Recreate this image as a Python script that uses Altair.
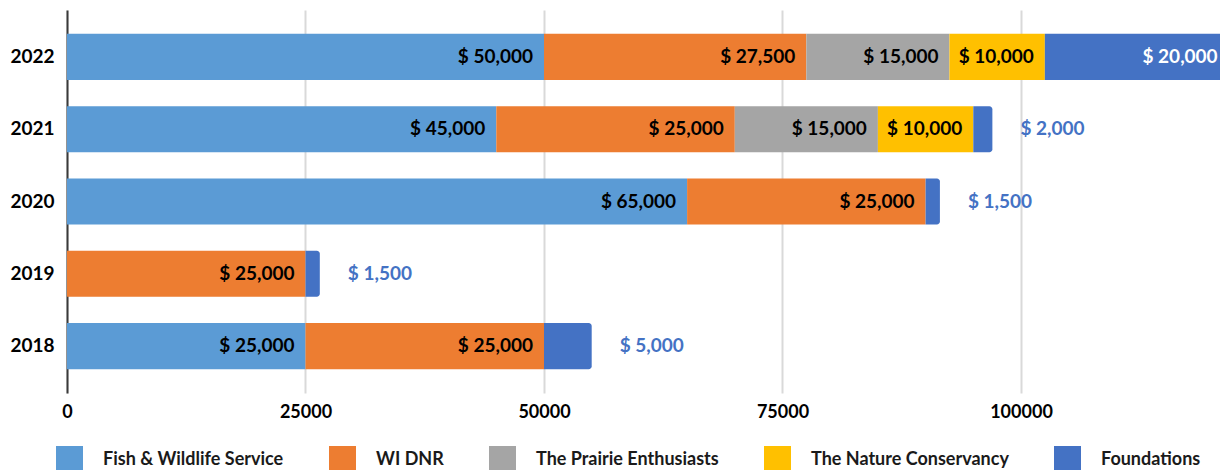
import altair as alt
import pandas as pd

years = ["2022", "2021", "2020", "2019", "2018"]
series = ["Fish & Wildlife Service", "WI DNR", "The Prairie Enthusiasts",
          "The Nature Conservancy", "Foundations"]
colors = ["#5B9BD5", "#ED7D31", "#A5A5A5", "#FFC000", "#4472C4"]

fish = [50000, 45000, 65000, 0, 25000]
widnr = [27500, 25000, 25000, 25000, 25000]
prairie = [15000, 15000, 0, 0, 0]
nature = [10000, 10000, 0, 0, 0]
foundations = [20000, 2000, 1500, 1500, 5000]

x_ticks = [0, 25000, 50000, 75000, 100000]

series_values = [fish, widnr, prairie, nature, foundations]
rows = []
for i, y in enumerate(years):
    cum = 0
    for s, vals in zip(series, series_values):
        v = vals[i]
        if v == 0:
            continue
        rows.append({"year": y, "series": s, "value": v, "start": cum, "end": cum + v})
        cum += v
df = pd.DataFrame(rows)

FONT = "Lato"

xscale = alt.Scale(domain=[0, 120860], nice=False, zero=True)
yscale = alt.Scale(paddingInner=0.363, paddingOuter=0.33)

base = alt.Chart(df).transform_calculate(
    label="'$ ' + format(datum.value, ',')"
)

xenc = alt.X("start:Q", scale=xscale, title=None,
             axis=alt.Axis(values=x_ticks, format="d", labelFont=FONT, labelFontWeight="bold",
                           labelFontSize=18, labelColor="#000000", labelPadding=10,
                           labelFlush=False, domain=False, ticks=False,
                           gridColor="#d9d9d9", gridWidth=2))
yenc = alt.Y("year:N", sort=years, scale=yscale, title=None,
             axis=alt.Axis(labelFont=FONT, labelFontWeight="bold", labelFontSize=19,
                           labelColor="#000000", labelPadding=13, ticks=False,
                           domainColor="#3a3a3a", domainWidth=2, grid=False))
cenc = alt.Color("series:N", scale=alt.Scale(domain=series, range=colors), title=None,
                 legend=alt.Legend(orient="none", direction="horizontal", legendX=-11, legendY=436,
                                   symbolType="square", symbolSize=729, symbolStrokeWidth=0,
                                   symbolOpacity=1, labelFont=FONT, labelFontWeight="bold",
                                   labelFontSize=18, labelColor="#1a1a1a", labelOffset=20,
                                   columnPadding=45, labelLimit=400, padding=0))

bars = base.transform_filter(alt.datum.series != "Foundations").mark_bar(clip=True).encode(
    x=xenc, x2="end:Q", y=yenc, color=cenc)
fbars = base.transform_filter(alt.datum.series == "Foundations").mark_bar(
    clip=True, cornerRadiusTopRight=3, cornerRadiusBottomRight=3).encode(
    x=alt.X("start:Q", scale=xscale), x2="end:Q", y=alt.Y("year:N", sort=years, scale=yscale),
    color=cenc)

inside = base.transform_filter(
    alt.datum.series != "Foundations"
).mark_text(align="right", baseline="middle", dx=-11, font=FONT, fontWeight="bold", fontSize=19,
            color="#000000").encode(
    x=alt.X("end:Q", scale=xscale), y=alt.Y("year:N", sort=years, scale=yscale),
    text="label:N")

inside_edge = base.transform_filter(
    (alt.datum.series == "Foundations") & (alt.datum.year == "2022")
).mark_text(align="right", baseline="middle", dx=-18, font=FONT, fontWeight="bold", fontSize=19,
            color="#ffffff").encode(
    x=alt.X("end:Q", scale=xscale), y=alt.Y("year:N", sort=years, scale=yscale),
    text="label:N")

outside = base.transform_filter(
    (alt.datum.series == "Foundations") & (alt.datum.year != "2022")
).mark_text(align="left", baseline="middle", dx=28, font=FONT, fontWeight="bold", fontSize=19,
            color="#4472C4").encode(
    x=alt.X("end:Q", scale=xscale), y=alt.Y("year:N", sort=years, scale=yscale),
    text="label:N")

chart = alt.layer(bars, fbars, inside, inside_edge, outside).properties(
    width=1153, height=383,
    padding={"left": 59, "top": 2, "right": 0, "bottom": 77},
    autosize=alt.AutoSizeParams(type="none"),
).configure_view(stroke=None)

chart.save("out.html", embed_options={"renderer": "svg", "actions": False})
